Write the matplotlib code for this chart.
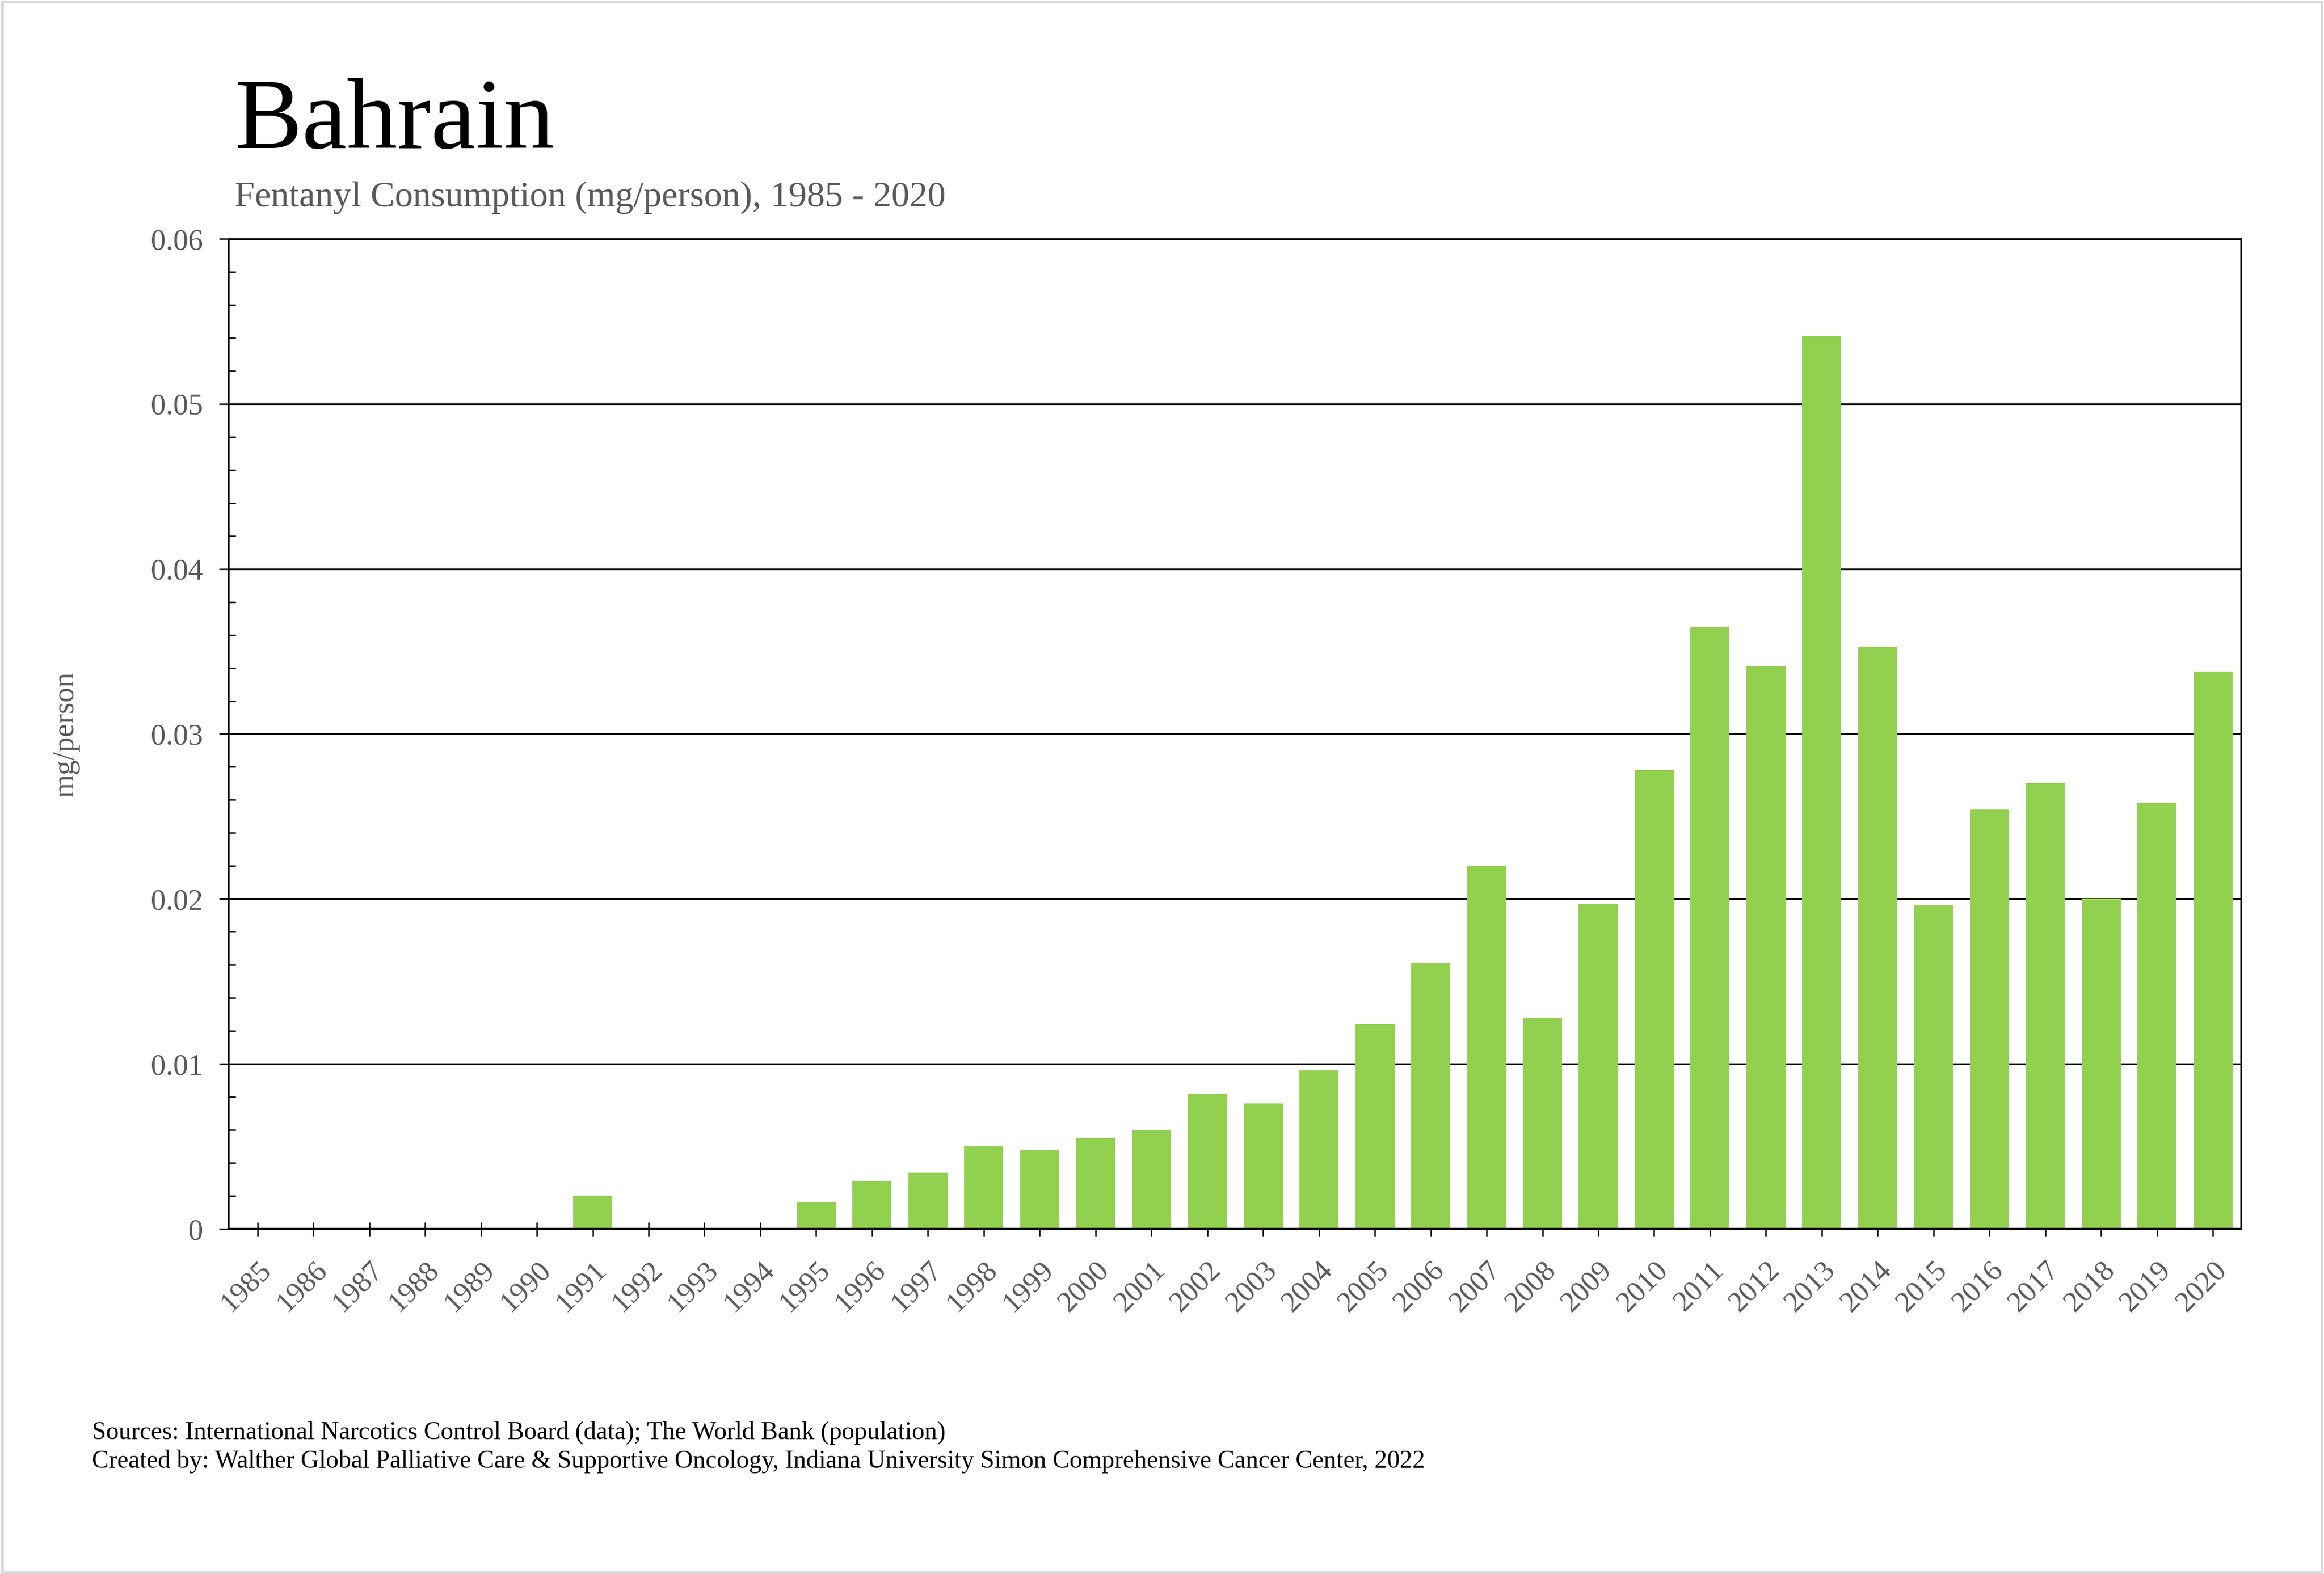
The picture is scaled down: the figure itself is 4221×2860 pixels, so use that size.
import matplotlib
matplotlib.use("Agg")
import matplotlib.pyplot as plt
from matplotlib.patches import Rectangle
from matplotlib.ticker import MultipleLocator

plt.rcParams['font.family'] = ['Liberation Serif', 'DejaVu Serif']

# data
years = list(range(1985, 2021))
values = [0, 0, 0, 0, 0, 0, 0.0020, 0, 0, 0,
          0.0016, 0.0029, 0.0034, 0.0050, 0.0048, 0.0055, 0.0060, 0.0082,
          0.0076, 0.0096, 0.0124, 0.0161, 0.0220, 0.0128, 0.0197, 0.0278,
          0.0365, 0.0341, 0.0541, 0.0353, 0.0196, 0.0254, 0.0270, 0.0200,
          0.0258, 0.0338]

yticks = [0, 0.01, 0.02, 0.03, 0.04, 0.05, 0.06]
ytick_labels = ["0", "0.01", "0.02", "0.03", "0.04", "0.05", "0.06"]

title = "Bahrain"
subtitle = "Fentanyl Consumption (mg/person), 1985 - 2020"
ylabel = "mg/person"
footer = ["Sources: International Narcotics Control Board (data); The World Bank (population)",
          "Created by: Walther Global Palliative Care & Supportive Oncology, Indiana University Simon Comprehensive Cancer Center, 2022"]

grey = "#595959"
green = "#92D050"

fig = plt.figure(figsize=(4221 / 300, 2860 / 300), dpi=300)
fig.patch.set_facecolor("white")
fig.patches.append(Rectangle((0.001, 0.001), 0.998, 0.998, transform=fig.transFigure,
                             fill=False, edgecolor="#d9d9d9", linewidth=1.2))

ax = fig.add_axes([0.0983, 0.2192, 0.8659, 0.6291])
x = list(range(len(years)))
ax.bar(x, values, width=0.7, color=green, zorder=2)

ax.set_xlim(-0.52, len(years) - 0.5)
ax.set_ylim(0, 0.06)
ax.set_xticks(x)
ax.set_xticklabels([str(y) for y in years], rotation=45, ha="right",
                   rotation_mode="anchor", color=grey, fontsize=12.8)
ax.set_yticks(yticks)
ax.set_yticklabels(ytick_labels)
ax.yaxis.set_minor_locator(MultipleLocator(0.002))
ax.tick_params(axis="y", which="major", direction="out", length=4, width=0.6,
               labelsize=13, labelcolor=grey, pad=7)
ax.tick_params(axis="y", which="minor", direction="in", length=3, width=0.6)
ax.tick_params(axis="x", which="major", direction="inout", length=6, width=0.6, pad=9)

ax.grid(axis="y", which="major", color="black", linewidth=0.7, zorder=1)
for s in ["top", "right", "left"]:
    ax.spines[s].set_linewidth(0.7)
ax.spines["bottom"].set_linewidth(0.9)
ax.set_axisbelow(True)

ax.set_ylabel(ylabel, color=grey, fontsize=13, labelpad=31)

fig.text(0.101, 0.906, title, fontsize=44, color="black", ha="left", va="baseline")
fig.text(0.101, 0.869, subtitle, fontsize=15.8, color=grey, ha="left", va="baseline")
fig.text(0.0395, 0.0855, footer[0], fontsize=11, color="black", ha="left", va="baseline")
fig.text(0.0395, 0.0675, footer[1], fontsize=11, color="black", ha="left", va="baseline")

fig.savefig("out.png", dpi=300)
